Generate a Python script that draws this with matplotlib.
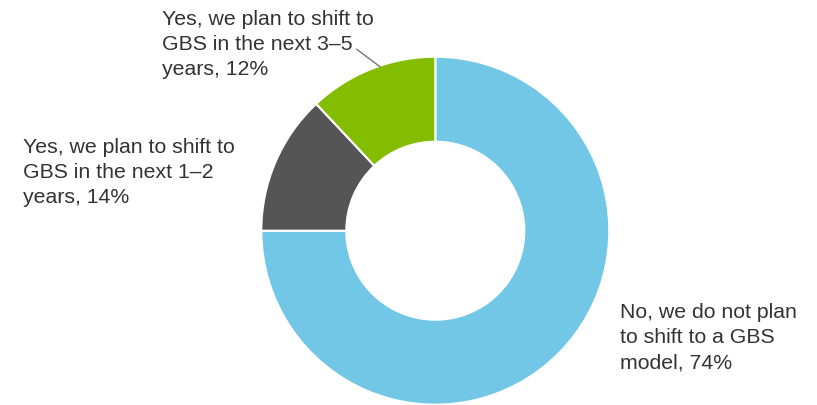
import matplotlib
matplotlib.use("Agg")
import matplotlib.pyplot as plt

# slice shares as drawn (clockwise from 12 o'clock)
shares = [75, 13, 12]
pct_text = ["74%", "14%", "12%"]
label_text = [
    "No, we do not plan\nto shift to a GBS\nmodel, ",
    "Yes, we plan to shift to\nGBS in the next 1\u20132\nyears, ",
    "Yes, we plan to shift to\nGBS in the next 3\u20135\nyears, ",
]
colors = ["#72C7E7", "#555555", "#84BD00"]

plt.rcParams['font.family'] = ['Liberation Sans', 'DejaVu Sans']

fig = plt.figure(figsize=(8.17, 4.05), dpi=100)
ax = fig.add_axes([0, 0, 1, 1])

cx, cy, r = 435.3, 405 - 230.7, 174
ax.pie(shares, colors=colors, startangle=90, counterclock=False,
       center=(cx, cy), radius=r, frame=True,
       wedgeprops=dict(width=85, edgecolor='white', linewidth=1.5))
ax.set_xlim(0, 817)
ax.set_ylim(0, 405)
ax.set_aspect('equal')
ax.axis('off')

# label positions (left x, top y in pixels from top)
pos = [(620, 303), (23, 138), (162, 10)]
for txt, pct, (x, y) in zip(label_text, pct_text, pos):
    ax.text(x, 405 - y, txt + pct, ha='left', va='top', fontsize=15.3,
            color='#333333', linespacing=1.41)

# leader line for the 3-5 years label
ax.plot([356.7, 380], [405 - 49.3, 405 - 66.7], color='#777777', lw=1)

fig.savefig("out.png", dpi=100)
